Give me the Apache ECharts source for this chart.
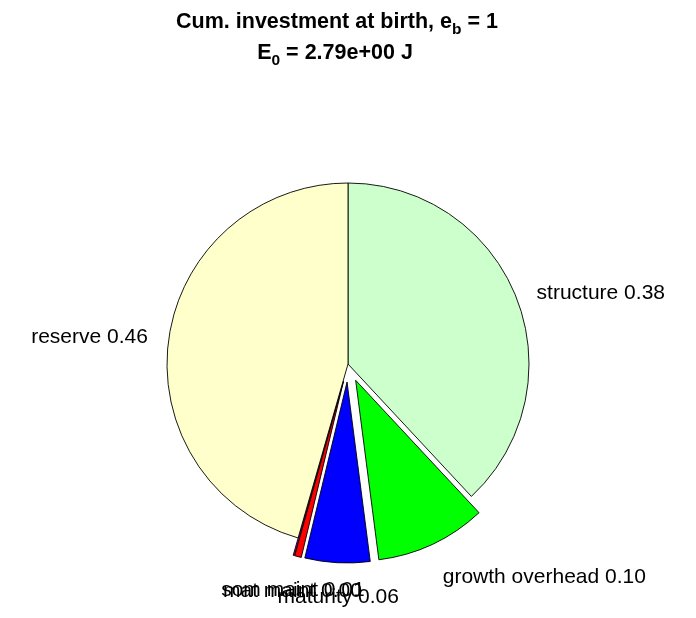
<!DOCTYPE html>
<html>
<head>
<meta charset="utf-8">
<script src="https://cdn.jsdelivr.net/npm/echarts@6/dist/echarts.min.js"></script>
<style>html,body{margin:0;padding:0;background:#fff;}#c{width:696px;height:618px;}</style>
</head>
<body>
<div id="c"></div>
<script>
const categories = ['structure', 'growth overhead', 'maturity', 'som maint', 'mat maint', 'reserve'];
const values = [0.381, 0.099, 0.058, 0.006, 0.001, 0.456];
const exploded = [false, true, true, true, true, false];
const sliceColors = ['#CCFFCC', '#00FF00', '#0000FF', '#FF0000', '#FF00FF', '#FFFFCC'];
const titleLine1 = ['Cum. investment at birth, e', 'b', ' = 1'];
const titleLine2 = ['E', '0', ' = 2.79e+00 J'];

// label fine placement (style only)
const labelAdjust = {
  1: { dx: -4, dy: 22 },
  2: { align: 'center', dx: 10.5, dy: 22.5 },
  3: { align: 'center', dx: 7, dy: 22 },
  4: { align: 'center', dx: 11, dy: 24 }
};

const FONT = '"Liberation Sans", Arial, Helvetica, sans-serif';
const chart = echarts.init(document.getElementById('c'), null, { renderer: 'canvas' });

const data = categories.map((n, i) => ({
  name: n,
  value: values[i],
  selected: exploded[i],
  itemStyle: { color: sliceColors[i] },
  select: { itemStyle: { color: sliceColors[i], borderColor: '#000', borderWidth: 0.9 } }
}));

function subTitle(parts, x, y) {
  return {
    type: 'text',
    x: x, y: y,
    style: {
      text: parts[0] + '{sub|' + parts[1] + '}' + parts[2],
      align: 'center',
      verticalAlign: 'middle',
      fill: '#000',
      font: 'bold 21.5px ' + FONT,
      lineHeight: 28,
      rich: {
        sub: { fontSize: 15.5, fontWeight: 'bold', fontFamily: FONT, lineHeight: 16, padding: [15, 0, 0, 0], fill: '#000', color: '#000' }
      }
    }
  };
}

chart.setOption({
  animation: false,
  backgroundColor: '#fff',
  graphic: [subTitle(titleLine1, 337, 22), subTitle(titleLine2, 335, 53)],
  series: [{
    type: 'pie',
    center: [348, 364],
    radius: 181,
    startAngle: 90,
    clockwise: true,
    selectedMode: 'multiple',
    selectedOffset: 18,
    avoidLabelOverlap: false,
    emphasis: { disabled: true },
    itemStyle: { borderColor: '#000', borderWidth: 0.9 },
    label: {
      show: true,
      position: 'outside',
      color: '#000',
      fontSize: 21,
      fontFamily: FONT,
      distanceToLabelLine: 9,
      formatter: p => p.name + ' ' + p.value.toFixed(2)
    },
    labelLine: { show: false, length: 12, length2: 0 },
    labelLayout: p => labelAdjust[p.dataIndex] || {},
    data: data
  }]
});
</script>
</body>
</html>
